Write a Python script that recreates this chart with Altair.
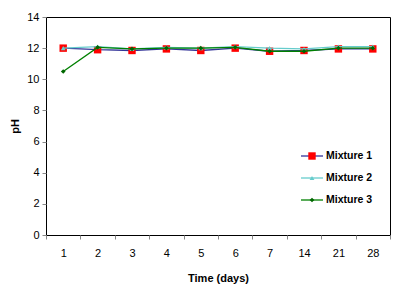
import altair as alt
import pandas as pd

days = ["1", "2", "3", "4", "5", "6", "7", "14", "21", "28"]
mix1 = [12.0, 11.9, 11.85, 11.95, 11.85, 12.0, 11.8, 11.85, 11.95, 11.95]
mix2 = [12.0, 12.1, 11.95, 12.05, 12.0, 12.1, 12.0, 11.95, 12.1, 12.1]
mix3 = [10.5, 12.05, 11.95, 12.0, 12.0, 12.05, 11.8, 11.8, 12.0, 12.0]
names = ["Mixture 1", "Mixture 2", "Mixture 3"]
line_colors = ["#333399", "#66cccc", "#008000"]
point_colors = ["#ff0000", "#66cccc", "#006600"]
shapes = ["square", "triangle-up", "diamond"]
sizes = [55, 22, 22]

FONT = "Liberation Sans"

xenc = alt.X("day:N", sort=days, bandPosition=0.5,
             scale=alt.Scale(type="band", paddingInner=0, paddingOuter=0),
             axis=alt.Axis(title="Time (days)", labelAngle=0, tickBand="extent",
                           domain=False, tickColor="#888888", tickSize=4,
                           labelPadding=8, titlePadding=14, labelFontSize=11,
                           titleFontSize=11, titleFontWeight="bold",
                           labelFont=FONT, titleFont=FONT, labelColor="#000", titleColor="#000"))
yenc = alt.Y("ph:Q", scale=alt.Scale(domain=[0, 14], nice=False),
             axis=alt.Axis(title="pH", values=list(range(0, 15, 2)), grid=False, domain=False,
                           tickColor="#888888", tickSize=4, labelPadding=3, titlePadding=6,
                           labelFontSize=11, titleFontSize=11, titleFontWeight="bold",
                           labelFont=FONT, titleFont=FONT, labelColor="#000", titleColor="#000"))

layers = []
for name, vals, lc, pc, sh, sz in zip(names, [mix1, mix2, mix3], line_colors, point_colors, shapes, sizes):
    df = pd.DataFrame({"day": days, "ph": vals, "series": name})
    base = alt.Chart(df).encode(x=xenc, y=yenc)
    layers.append(base.mark_line(color=lc, strokeWidth=1.3))
    layers.append(base.mark_point(shape=sh, filled=True, color=pc, size=sz, opacity=1))

# legend (drawn inside the plot area)
leg_y = [156, 178, 200]
for name, lc, pc, sh, sz, ly in zip(names, line_colors, point_colors, shapes, sizes, leg_y):
    yy = ly - 17
    layers.append(alt.Chart(pd.DataFrame({"a": [0]})).mark_rule(color=lc, strokeWidth=1.3).encode(
        x=alt.value(301 - 46), x2=alt.value(323 - 46), y=alt.value(yy)))
    layers.append(alt.Chart(pd.DataFrame({"a": [0]})).mark_point(
        shape=sh, filled=True, color=pc, size=sz, opacity=1).encode(
        x=alt.value(312 - 46), y=alt.value(yy)))
    layers.append(alt.Chart(pd.DataFrame({"t": [name]})).mark_text(
        align="left", baseline="middle", font=FONT, fontSize=10.5, fontWeight="bold", color="#000").encode(
        x=alt.value(326 - 46), y=alt.value(yy), text="t:N"))

chart = alt.layer(*layers).properties(
    width=344, height=218,
    autosize=alt.AutoSizeParams(type="none"),
    padding={"left": 38, "top": 9, "right": 5, "bottom": 50},
    background="white",
).configure_view(stroke="#000000", strokeWidth=1)

chart.save("out.html", embed_options={"renderer": "svg", "actions": False})
